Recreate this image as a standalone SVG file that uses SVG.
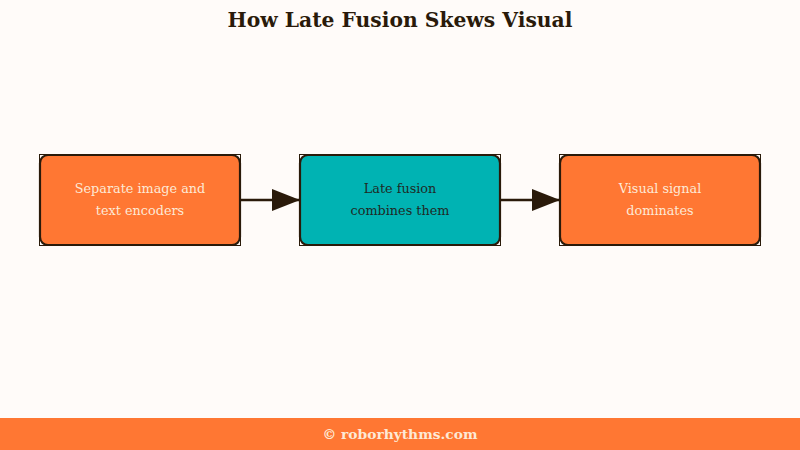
<svg xmlns="http://www.w3.org/2000/svg" width="800" height="450" viewBox="0 0 800 450">
<defs>
<style>
.bg{fill:#fffbf9}
.frame{fill:none;stroke:#2a1a0a;stroke-width:1}
.box{stroke:#2a1a0a;stroke-width:2.2}
.orange{fill:#ff7733}
.teal{fill:#00b3b3}
.lt{fill:#fde9d6}
.dk{fill:#1f2a26}
.lbl{font-family:"DejaVu Serif","Liberation Serif",serif;font-size:12.8px;text-anchor:middle}
.title{font-family:"DejaVu Serif","Liberation Serif",serif;font-size:20.3px;font-weight:bold;fill:#2a1a0a;text-anchor:middle}
.foot{font-family:"DejaVu Serif","Liberation Serif",serif;font-size:13.8px;font-weight:bold;fill:#fde9d6;text-anchor:middle}
.conn{stroke:#2a1a0a;stroke-width:2.5;fill:none}
</style>
<marker id="ah" viewBox="0 0 28 22" refX="28" refY="11" markerWidth="28" markerHeight="22" markerUnits="userSpaceOnUse" orient="auto">
<path d="M0,0 L28,11 L0,22 Z" fill="#2a1a0a"/>
</marker>
</defs>
<rect class="bg" x="0" y="0" width="800" height="450"/>
<text class="title" x="400" y="27">How Late Fusion Skews Visual</text>
<g id="connectors">
<line class="conn" x1="241" y1="200" x2="300" y2="200" marker-end="url(#ah)"/>
<line class="conn" x1="501" y1="200" x2="560" y2="200" marker-end="url(#ah)"/>
</g>
<g id="node1">
<rect class="frame" x="39.5" y="154.5" width="201" height="91"/>
<rect class="box orange" x="40" y="155" width="200" height="90" rx="8"/>
<text class="lbl lt" x="140" y="193">Separate image and</text>
<text class="lbl lt" x="140" y="215">text encoders</text>
</g>
<g id="node2">
<rect class="frame" x="299.5" y="154.5" width="201" height="91"/>
<rect class="box teal" x="300" y="155" width="200" height="90" rx="8"/>
<text class="lbl dk" x="400" y="193">Late fusion</text>
<text class="lbl dk" x="400" y="215">combines them</text>
</g>
<g id="node3">
<rect class="frame" x="559.5" y="154.5" width="201" height="91"/>
<rect class="box orange" x="560" y="155" width="200" height="90" rx="8"/>
<text class="lbl lt" x="660" y="193">Visual signal</text>
<text class="lbl lt" x="660" y="215">dominates</text>
</g>
<rect class="orange" x="0" y="418" width="800" height="32"/>
<text class="foot" x="400" y="439">© roborhythms.com</text>
</svg>
